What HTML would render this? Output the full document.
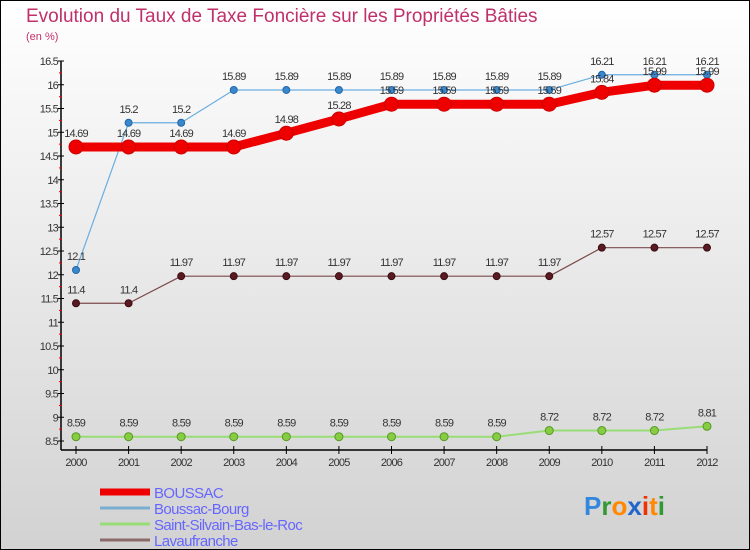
<!DOCTYPE html>
<html><head><meta charset="utf-8"><style>
body{margin:0;width:750px;height:550px;overflow:hidden;font-family:"Liberation Sans",sans-serif}
#wrap{position:absolute;left:0;top:0;width:748px;height:548px;border:1px solid #000;background:linear-gradient(#ffffff,#d2d2d2)}
</style></head><body>
<div id="wrap">
<svg id="svg" width="750" height="550" style="position:absolute;left:-1px;top:-1px">
<text x="26" y="22" font-size="19" fill="#c0306a">Evolution du Taux de Taxe Foncière sur les Propriétés Bâties</text>
<text x="26" y="40" font-size="11" fill="#c0306a">(en %)</text>
<g id="g"></g>
</svg>
</div>
<script>
const years=["2000","2001","2002","2003","2004","2005","2006","2007","2008","2009","2010","2011","2012"];
const yTicks=[8.5,9,9.5,10,10.5,11,11.5,12,12.5,13,13.5,14,14.5,15,15.5,16,16.5];
const boussac=[14.69,14.69,14.69,14.69,14.98,15.28,15.59,15.59,15.59,15.59,15.84,15.99,15.99];
const boussacBourg=[12.1,15.2,15.2,15.89,15.89,15.89,15.89,15.89,15.89,15.89,16.21,16.21,16.21];
const saintSilvain=[8.59,8.59,8.59,8.59,8.59,8.59,8.59,8.59,8.59,8.72,8.72,8.72,8.81];
const lavaufranche=[11.4,11.4,11.97,11.97,11.97,11.97,11.97,11.97,11.97,11.97,12.57,12.57,12.57];
const NS="http://www.w3.org/2000/svg";
const g=document.getElementById('g');
const X=i=>76+i*(707-76)/12;
const Y=v=>441-(v-8.5)*47.5;
function mk(t,a,txt){const e=document.createElementNS(NS,t);for(const k in a)e.setAttribute(k,a[k]);if(txt!==undefined)e.textContent=txt;g.appendChild(e);return e;}
// axes
let e=mk('line',{x1:61,y1:Y(16.5),x2:61,y2:450,stroke:'#000','stroke-width':1.5});


e=mk('line',{x1:61,y1:450,x2:707,y2:450,stroke:'#000','stroke-width':1.5});


yTicks.forEach((v,i)=>{
 const major=v%1===0||i%1===0;
 const t=mk('line',{x1:58,y1:Y(v),x2:64,y2:Y(v),stroke:'#000'});
 
 
 const m=mk('line',{x1:59,y1:Y(v)+11.9,x2:62,y2:Y(v)+11.9,stroke:'#e00'});
 if(v===8.5)m.setAttribute('visibility','hidden');
 
 
 const l=mk('text',{x:58,y:Y(v)+4,'font-size':11,fill:'#333','text-anchor':'end','letter-spacing':'-0.8'},String(v));
 
 
});
years.forEach((y,i)=>{
 const t=mk('line',{x1:X(i),y1:446,x2:X(i),y2:454,stroke:'#000'});
 
 
 const l=mk('text',{x:X(i),y:466,'font-size':11,fill:'#333','text-anchor':'middle','letter-spacing':'-0.8'},y);
 
 
});
function series(data,name,color,w,r,dot,dotStroke){
 const p=mk('polyline',{points:data.map((v,i)=>X(i)+','+Y(v)).join(' '),fill:'none',stroke:color,'stroke-width':w,'stroke-linejoin':'round'});
 
 
 data.forEach((v,i)=>{
  const c=mk('circle',{cx:X(i),cy:Y(v),r:r,fill:dot,stroke:dotStroke,'stroke-width':1});
  
  
  const l=mk('text',{x:X(i),y:Y(v)-10,'font-size':11,fill:'#333','text-anchor':'middle','letter-spacing':'-0.8'},String(v));
  
  
 });
}
series(saintSilvain,'saint-silvain','#99dd77',2,4,'#88cc44','#559922');
series(lavaufranche,'lavaufranche','#7a4a4a',1.2,3.5,'#5a1a22','#3a0a12');
series(boussacBourg,'boussac-bourg','#6aaee0',1.2,3.5,'#3a88cc','#2266aa');
series(boussac,'boussac','#ee0000',9,7,'#ee0000','#cc0000');
// legend
const leg=[['BOUSSAC','#ee0000',7],['Boussac-Bourg','#7aaed0',3],['Saint-Silvain-Bas-le-Roc','#99dd77',3],['Lavaufranche','#8a6a6a',3]];
leg.forEach((d,i)=>{
 const y=492+i*16;
 const s=mk('line',{x1:100,y1:y,x2:150,y2:y,stroke:d[1],'stroke-width':d[2]});
 
 
 const t=mk('text',{x:154,y:y+6,'font-size':15,fill:'#6666ff','letter-spacing':'-0.6'},d[0]);
 
 
});
const logo=mk('text',{x:584,y:515,'font-size':26,'font-weight':'bold'});


[['P','#3388dd'],['r','#339933'],['o','#ff8800'],['x','#2266cc'],['i','#ee3300'],['t','#ff8800'],['i','#339933']].forEach(c=>{const ts=document.createElementNS(NS,'tspan');ts.setAttribute('fill',c[1]);ts.textContent=c[0];logo.appendChild(ts);});
</script>
</body></html>
